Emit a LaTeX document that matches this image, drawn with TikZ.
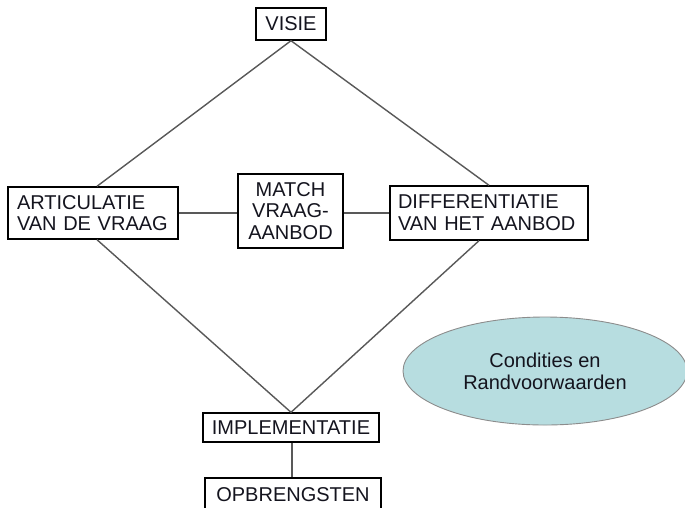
\documentclass[tikz,border=0pt]{standalone}
\usepackage{fontspec}
\setmainfont{Liberation Sans}
\usetikzlibrary{shapes.geometric}
\definecolor{condfill}{RGB}{183,221,224}
\definecolor{txt}{RGB}{20,20,30}
\begin{document}
\begin{tikzpicture}[x=1pt,y=-1pt,
  box/.style={draw=black,line width=1.4pt,fill=white,inner sep=0pt,text=txt,font=\fontsize{20}{21.7}\selectfont},
  conn/.style={draw=black!65,line width=1.4pt},
  cond/.style={ellipse,draw=black!45,line width=0.9pt,fill=condfill,inner sep=0pt,text=txt,align=center,font=\fontsize{20}{21.7}\selectfont}
]
\useasboundingbox (0,0) rectangle (685,507);
\clip (0,0) rectangle (685,507);
\fill[white] (0,0) rectangle (685,507);
\node[box,minimum width=70pt,minimum height=32pt] (visie) at (291,24) {VISIE};
\node[box,text width=152pt,align=left,inner xsep=9pt,minimum height=52pt] (artic) at (93,213) {ARTICULATIE\\VAN DE VRAAG};
\node[box,align=center,minimum width=105pt,minimum height=74pt] (match) at (290.5,211) {MATCH\\VRAAG-\\AANBOD};
\node[box,text width=182pt,align=left,inner xsep=8pt,minimum height=54pt] (diff) at (489,213) {DIFFERENTIATIE\\VAN HET AANBOD};
\node[box,minimum width=176pt,minimum height=29pt] (impl) at (291,427.5) {IMPLEMENTATIE};
\node[box,minimum width=176pt,minimum height=34pt] (opb) at (293,495) {OPBRENGSTEN};
\node[cond,minimum width=284pt,minimum height=108pt] (cond) at (545,371) {Condities en\\Randvoorwaarden};
\draw[conn] (visie.south) -- ([xshift=4pt]artic.north);
\draw[conn] (visie.south) -- (diff.north);
\draw[conn] ([xshift=4pt]artic.south) -- (impl.north);
\draw[conn] ([xshift=-10pt]diff.south) -- (impl.north);
\draw[conn] (artic.east) -- (artic.east -| match.west);
\draw[conn] (diff.west -| match.east) -- (diff.west);
\draw[conn] ([xshift=1pt]impl.south) -- ([xshift=1pt]impl.south |- opb.north);
\end{tikzpicture}
\end{document}
